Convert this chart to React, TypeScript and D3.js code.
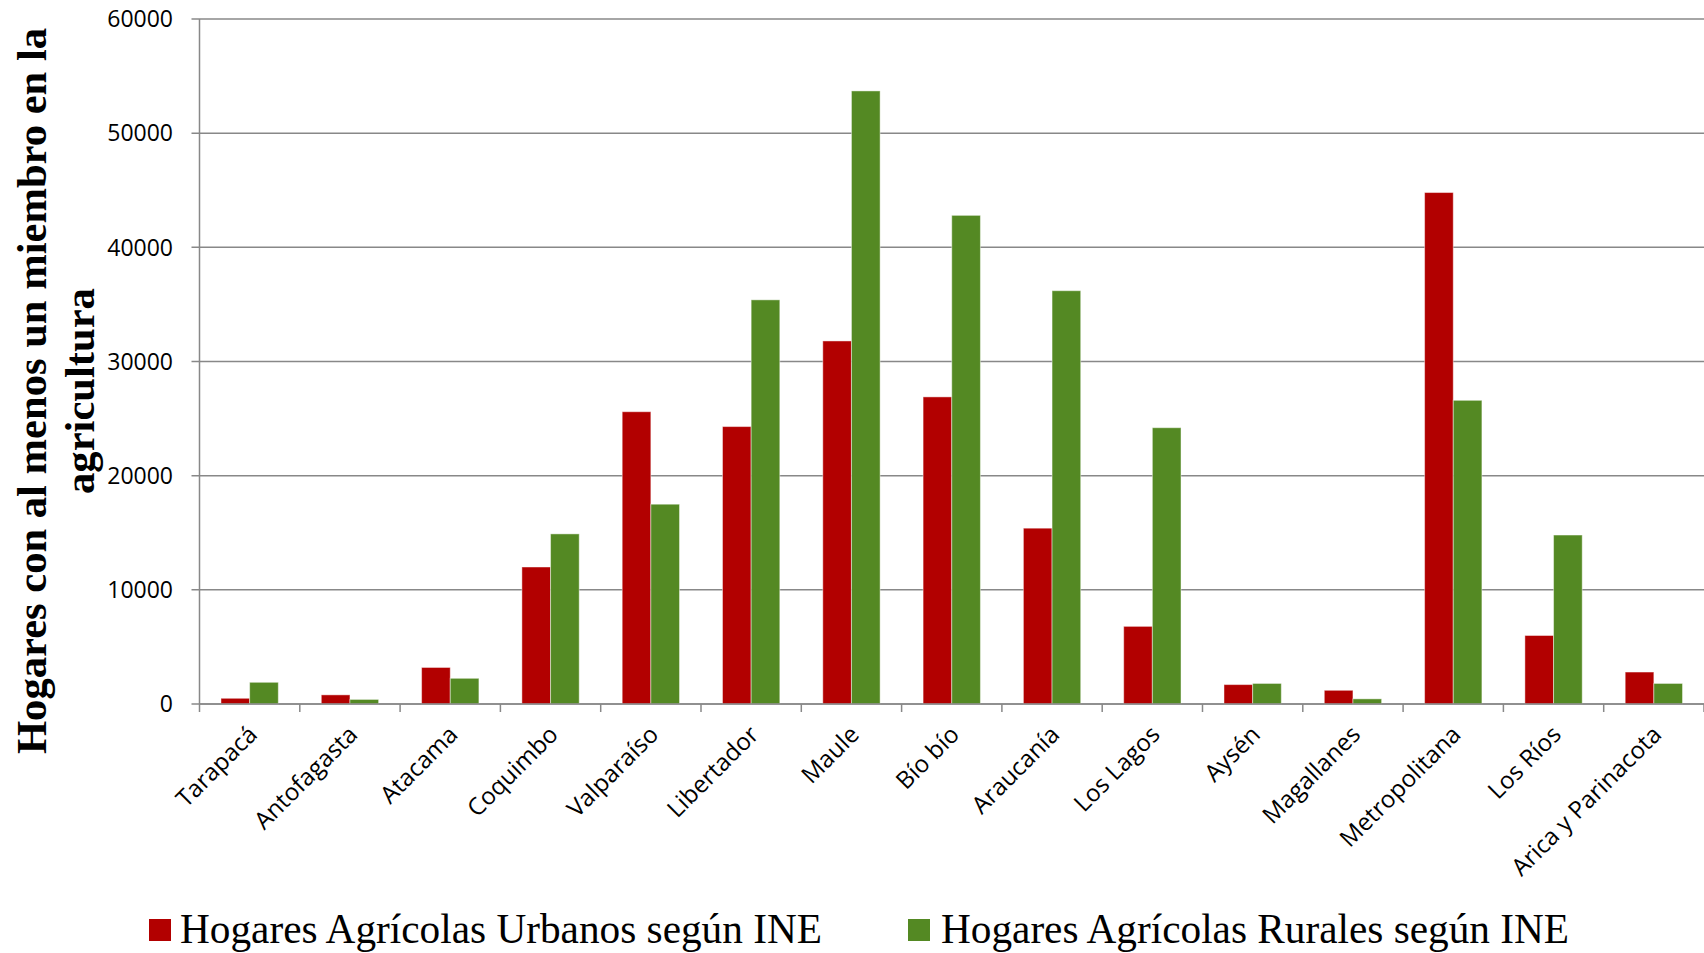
import React from "react";
import * as d3 from "d3";

const categories = [
  "Tarapacá", "Antofagasta", "Atacama", "Coquimbo", "Valparaíso", "Libertador",
  "Maule", "Bío bío", "Araucanía", "Los Lagos", "Aysén", "Magallanes",
  "Metropolitana", "Los Ríos", "Arica y Parinacota",
];
const urbanos = [500, 800, 3200, 12000, 25600, 24300, 31800, 26900, 15400, 6800, 1700, 1200, 44800, 6000, 2800];
const rurales = [1900, 400, 2250, 14900, 17500, 35400, 53700, 42800, 36200, 24200, 1800, 450, 26600, 14800, 1800];
const seriesNames = ["Hogares Agrícolas Urbanos según INE", "Hogares Agrícolas Rurales según INE"];
const yTicks = [0, 10000, 20000, 30000, 40000, 50000, 60000];
const yTitle = ["Hogares con al menos un miembro en la", "agricultura"];

const W = 1704;
const H = 953;
const RED = "#B20000";
const GREEN = "#548923";
const GRID = "#888888";

export default function App() {
  const left = 199.5;
  const right = 1704;
  const top = 19;
  const bottom = 704;
  const x = d3.scaleBand<string>().domain(categories).range([left, right]).paddingInner(0).paddingOuter(0);
  const bw = x.bandwidth();
  const x1 = d3.scaleBand<string>().domain(["u", "r"]).range([0, bw]).paddingInner(0).paddingOuter(0.75);
  const y = d3.scaleLinear().domain([0, 60000]).range([bottom, top]);
  const colors = [RED, GREEN];
  const data = [urbanos, rurales];
  const keys = ["u", "r"];
  const tickXs = d3.range(categories.length + 1).map((i) => left + i * bw);

  return (
    <svg width={W} height={H} style={{ position: "absolute", left: 0, top: 0, background: "#fff" }}>
      <rect x={0} y={0} width={W} height={H} fill="#fff" />
      {yTicks.map((t) => (
        <g key={t}>
          <line x1={191.5} x2={right} y1={y(t)} y2={y(t)} stroke={GRID} strokeWidth={1.5} />
          <text
            x={173}
            y={y(t)}
            dy="0.36em"
            textAnchor="end"
            fontFamily="'Open Sans', sans-serif"
            fontSize={23}
            fill="#000"
          >
            {t}
          </text>
        </g>
      ))}
      {data.map((vals, si) =>
        vals.map((v, i) => (
          <rect
            key={si + "-" + i}
            x={(x(categories[i]) as number) + (x1(keys[si]) as number)}
            y={y(v)}
            width={x1.bandwidth()}
            height={bottom - y(v)}
            fill={colors[si]}
            stroke="rgba(255,255,255,0.45)"
            strokeWidth={1}
          />
        ))
      )}
      <line x1={left} x2={left} y1={top} y2={bottom} stroke={GRID} strokeWidth={1.5} />
      <line x1={left} x2={right} y1={bottom} y2={bottom} stroke={GRID} strokeWidth={1.5} />
      {tickXs.map((tx, i) => (
        <line key={i} x1={tx} x2={tx} y1={bottom} y2={bottom + 8} stroke={GRID} strokeWidth={1.5} />
      ))}
      {categories.map((c) => {
        const cx = (x(c) as number) + bw / 2;
        const ax = cx + 9;
        const ay = bottom + 32;
        return (
          <text
            key={c}
            transform={`translate(${ax},${ay}) rotate(-45)`}
            textAnchor="end"
            fontFamily="'Open Sans', sans-serif"
            fontSize={24}
            fill="#000"
          >
            {c}
          </text>
        );
      })}
      {yTitle.map((line, i) => (
        <text
          key={i}
          transform={`translate(${46 + i * 48},391) rotate(-90)`}
          textAnchor="middle"
          fontFamily="'Liberation Serif', 'Times New Roman', serif"
          fontWeight="bold"
          fontSize={42.6}
          fill="#000"
        >
          {line}
        </text>
      ))}
      {seriesNames.map((name, i) => {
        const sx = i === 0 ? 149 : 908;
        const tx = i === 0 ? 180 : 941;
        const tl = i === 0 ? 642 : 628;
        return (
          <g key={name}>
            <rect x={sx} y={919} width={22} height={22} fill={colors[i]} />
            <text
              x={tx}
              y={943}
              fontFamily="'Liberation Serif', 'Times New Roman', serif"
              fontSize={43}
              textLength={tl}
              lengthAdjust="spacingAndGlyphs"
              fill="#000"
            >
              {name}
            </text>
          </g>
        );
      })}
    </svg>
  );
}
